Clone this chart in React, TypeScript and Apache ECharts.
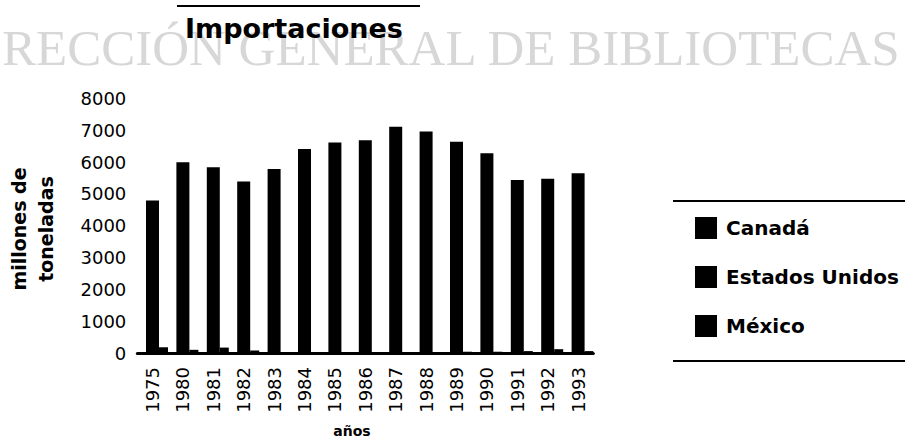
import React, { useEffect, useRef } from "react";
import * as echarts from "echarts";

const years = ["1975", "1980", "1981", "1982", "1983", "1984", "1985", "1986", "1987", "1988", "1989", "1990", "1991", "1992", "1993"];
const canada = [0, 0, 0, 0, 0, 0, 0, 0, 0, 0, 0, 0, 0, 0, 0];
const estadosUnidos = [4790, 6000, 5840, 5390, 5780, 6410, 6620, 6690, 7110, 6960, 6640, 6280, 5440, 5480, 5650];
const mexico = [180, 100, 170, 80, 30, 30, 30, 30, 30, 30, 40, 40, 60, 120, 60];
const yTicks = [0, 1000, 2000, 3000, 4000, 5000, 6000, 7000, 8000];

const FONT = "DejaVu Sans";

export default function App() {
  const ref = useRef<HTMLDivElement>(null);
  useEffect(() => {
    if (!ref.current) return;
    const chart = echarts.init(ref.current, null, { renderer: "svg" });
    chart.setOption({
      animation: false,
      backgroundColor: "#ffffff",
      grid: { left: 137.3, top: 98.5, width: 456, height: 254.5, containLabel: false },
      legend: {
        orient: "vertical",
        left: 695,
        top: 217,
        padding: 0,
        itemWidth: 22,
        itemHeight: 22,
        itemGap: 27,
        icon: "rect",
        selectedMode: false,
        textStyle: { fontFamily: FONT, fontWeight: "bold", fontSize: 20, color: "#000", padding: [0, 0, 0, 4] },
        data: ["Canadá", "Estados Unidos", "México"],
      },
      xAxis: {
        type: "category",
        data: years,
        axisLine: { show: true, lineStyle: { color: "#000", width: 3 } },
        axisTick: { show: false },
        axisLabel: {
          rotate: 90,
          margin: 14,
          interval: 0,
          fontFamily: FONT,
          fontSize: 18,
          color: "#000",
          padding: [0, 0, 10, 0],
        },
      },
      yAxis: {
        type: "value",
        min: yTicks[0],
        max: yTicks[yTicks.length - 1],
        interval: 1000,
        axisLine: { show: false },
        axisTick: { show: false },
        splitLine: { show: false },
        axisLabel: {
          margin: 11,
          fontFamily: FONT,
          fontSize: 18,
          color: "#000",
          formatter: (v: number) => String(v),
        },
      },
      series: [
        { name: "Canadá", type: "bar", data: canada, barWidth: 9, barGap: "0%", itemStyle: { color: "#000" } },
        { name: "Estados Unidos", type: "bar", data: estadosUnidos, barWidth: 13, barGap: "0%", itemStyle: { color: "#000" } },
        { name: "México", type: "bar", data: mexico, barWidth: 9, barGap: "0%", itemStyle: { color: "#000" } },
      ],
      graphic: [
        {
          type: "text",
          z: 0,
          x: 2,
          y: 48,
          silent: true,
          style: {
            text: "RECCIÓN GENERAL DE BIBLIOTECAS",
            font: "51px 'Liberation Serif'",
            fill: "#d7d7d7",
            textVerticalAlign: "middle",
          },
        },
        {
          type: "line",
          z: 10,
          shape: { x1: 177, y1: 6, x2: 420, y2: 6 },
          style: { stroke: "#000", lineWidth: 2 },
        },
        {
          type: "text",
          z: 10,
          x: 185,
          y: 28,
          style: {
            text: "Importaciones",
            font: `bold 27px '${FONT}'`,
            fill: "#000",
            textVerticalAlign: "middle",
          },
        },
        {
          type: "text",
          z: 10,
          x: 32,
          y: 229,
          rotation: Math.PI / 2,
          style: {
            text: "millones de\ntoneladas",
            font: `bold 19px '${FONT}'`,
            lineHeight: 27,
            fill: "#000",
            textAlign: "center",
            textVerticalAlign: "middle",
          },
        },
        {
          type: "text",
          z: 10,
          x: 352,
          y: 431,
          style: {
            text: "años",
            font: `bold 14px '${FONT}'`,
            fill: "#000",
            textAlign: "center",
            textVerticalAlign: "middle",
          },
        },
        {
          type: "line",
          z: 10,
          shape: { x1: 673, y1: 201, x2: 905, y2: 201 },
          style: { stroke: "#000", lineWidth: 2 },
        },
        {
          type: "line",
          z: 10,
          shape: { x1: 673, y1: 361, x2: 905, y2: 361 },
          style: { stroke: "#000", lineWidth: 2 },
        },
      ],
    });
    return () => chart.dispose();
  }, []);
  return (
    <div
      ref={ref}
      style={{ position: "fixed", left: 0, top: 0, width: 905, height: 440 }}
    />
  );
}
